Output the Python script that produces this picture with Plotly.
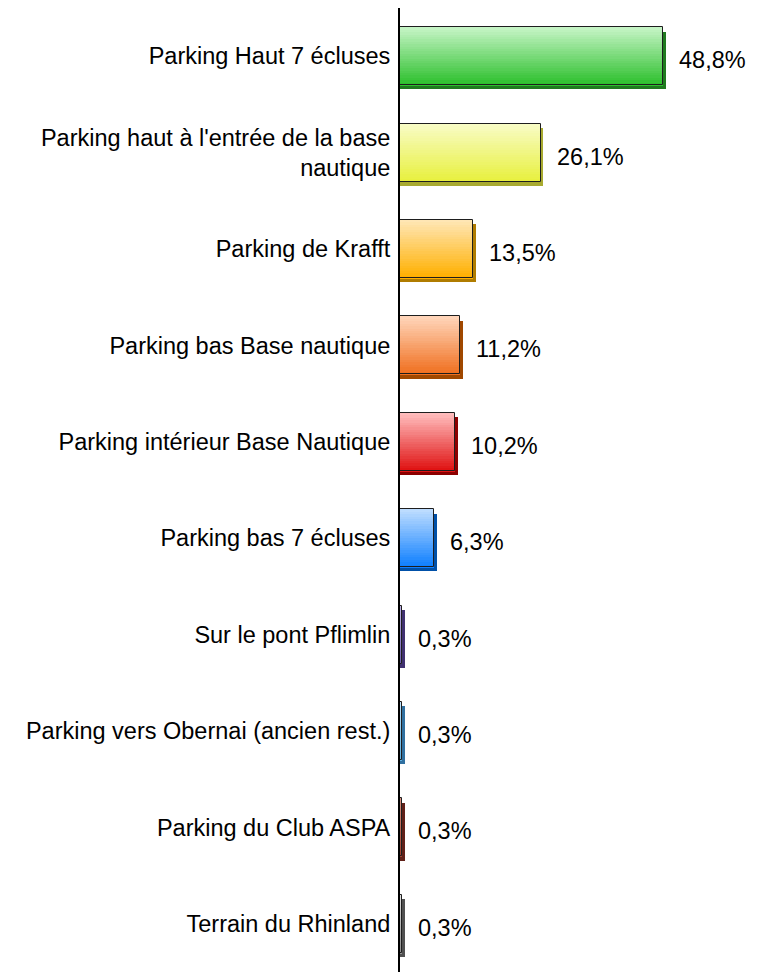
import plotly.graph_objects as go

categories = [
    "Parking Haut 7 écluses",
    "Parking haut à l'entrée de la base<br>nautique",
    "Parking de Krafft",
    "Parking bas Base nautique",
    "Parking intérieur Base Nautique",
    "Parking bas 7 écluses",
    "Sur le pont Pflimlin",
    "Parking vers Obernai (ancien rest.)",
    "Parking du Club ASPA",
    "Terrain du Rhinland",
]
values = [48.8, 26.1, 13.5, 11.2, 10.2, 6.3, 0.3, 0.3, 0.3, 0.3]
labels = ["48,8%", "26,1%", "13,5%", "11,2%", "10,2%", "6,3%", "0,3%", "0,3%", "0,3%", "0,3%"]

top_colors = ["#c4f4c4", "#f8fcc4", "#ffe6b4", "#ffd4b8", "#ffbcbc", "#bcdcff",
              "#c0b4e8", "#c0e4ff", "#d89080", "#e0e0e0"]
bottom_colors = ["#2ec02e", "#e8f040", "#ffb000", "#f07020", "#e01414", "#1080ff",
                 "#7060b0", "#60b0e0", "#a04030", "#909090"]
shadow_colors = ["#1f7a1f", "#a8aa30", "#b07c00", "#a04800", "#8c0000", "#0050a8",
                 "#403070", "#3070a0", "#602018", "#505050"]

FONT = "Liberation Sans, Arial, sans-serif"
FS = 23.5
ypos = list(range(len(categories)))
BW = 0.6


def hex2rgb(h):
    h = h.lstrip("#")
    return tuple(int(h[i:i + 2], 16) for i in (0, 2, 4))


def mix(c1, c2, t):
    a, b = hex2rgb(c1), hex2rgb(c2)
    return "rgb(%d,%d,%d)" % tuple(round(a[k] + (b[k] - a[k]) * t) for k in range(3))


fig = go.Figure()

# shadow (3D effect)
fig.add_trace(go.Bar(
    y=ypos, x=[v + 0.55 for v in values], orientation="h",
    width=BW, offset=-BW / 2 + 0.045,
    marker=dict(color=shadow_colors, line=dict(width=0)),
    hoverinfo="skip", showlegend=False,
))

# gradient body as stacked thin stripes
N = 24
sw = BW / N
for k in range(N):
    t = k / (N - 1)
    fig.add_trace(go.Bar(
        y=ypos, x=values, orientation="h",
        width=sw * 1.35, offset=-BW / 2 + k * sw,
        marker=dict(color=[mix(tc, bc, t) for tc, bc in zip(top_colors, bottom_colors)],
                    line=dict(width=0)),
        hoverinfo="skip", showlegend=False,
    ))

# outline
fig.add_trace(go.Bar(
    y=ypos, x=values, orientation="h",
    width=BW, offset=-BW / 2,
    marker=dict(color="rgba(0,0,0,0)", line=dict(color="#1e1e1e", width=1)),
    hoverinfo="skip", showlegend=False,
))

for i, (v, lab) in enumerate(zip(values, labels)):
    fig.add_annotation(x=v, y=i, xref="x", yref="y", text=lab, showarrow=False,
                       xanchor="left", yanchor="middle", xshift=14, yshift=-4,
                       font=dict(family=FONT, size=FS, color="black"))

fig.update_layout(
    width=755, height=964,
    margin=dict(l=392, r=40, t=0, b=0),
    paper_bgcolor="white", plot_bgcolor="white",
    barmode="overlay", bargap=0,
    font=dict(family=FONT, size=FS, color="black"),
    showlegend=False,
    xaxis=dict(range=[0, 60], visible=False, showgrid=False, zeroline=False),
    yaxis=dict(
        range=[9.5, -0.5], tickmode="array", tickvals=ypos, ticktext=categories,
        showline=True, linecolor="black", linewidth=2, ticks="",
        showgrid=False, zeroline=False, ticklabelstandoff=3,
        tickfont=dict(family=FONT, size=FS, color="black"),
    ),
)

fig.write_html("out.html")
